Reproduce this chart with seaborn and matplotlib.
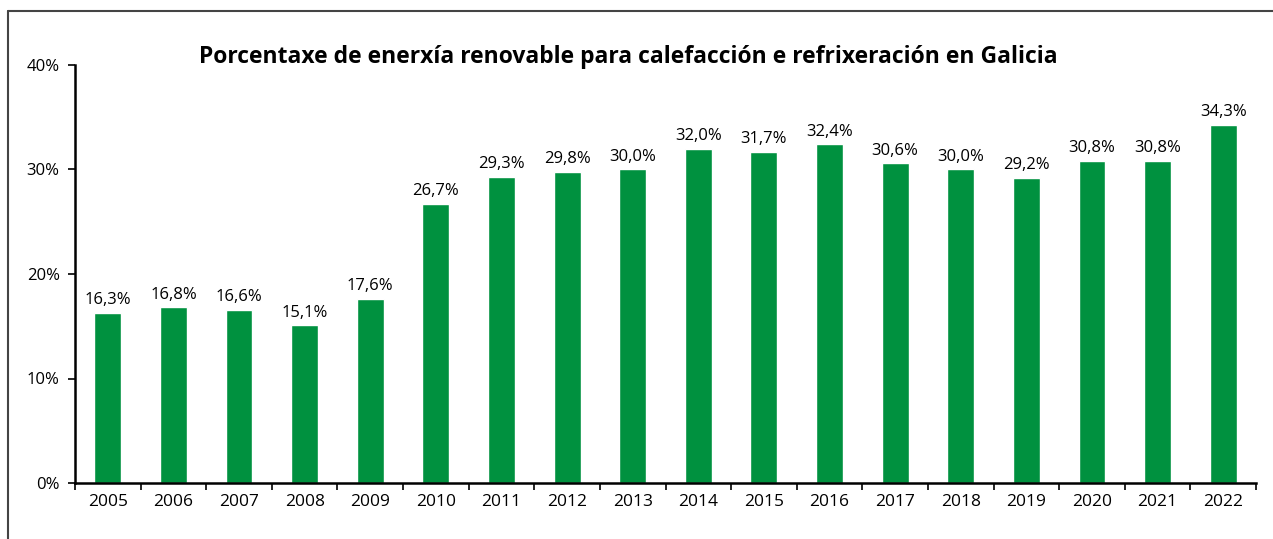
import matplotlib
matplotlib.use("Agg")
import matplotlib.pyplot as plt
import seaborn as sns
import pandas as pd
from matplotlib.ticker import FixedLocator, PercentFormatter
from matplotlib.lines import Line2D

years = ["2005", "2006", "2007", "2008", "2009", "2010", "2011", "2012", "2013",
         "2014", "2015", "2016", "2017", "2018", "2019", "2020", "2021", "2022"]
values = [16.3, 16.8, 16.6, 15.1, 17.6, 26.7, 29.3, 29.8, 30.0,
          32.0, 31.7, 32.4, 30.6, 30.0, 29.2, 30.8, 30.8, 34.3]
title = "Porcentaxe de enerxía renovable para calefacción e refrixeración en Galicia"

sns.set_theme(style="white")
plt.rcParams['font.family'] = ['Open Sans', 'DejaVu Sans']

df = pd.DataFrame({"year": years, "value": values})

fig = plt.figure(figsize=(12.73, 5.39), dpi=100)
ax = fig.add_axes([75/1273, 1-483/539, (1256-75)/1273, (483-65)/539])

sns.barplot(data=df, x="year", y="value", color="#00913F", width=0.41,
            saturation=1, ax=ax, order=years)

for i, v in enumerate(values):
    ax.text(i, v + 0.45, f"{v:.1f}%".replace(".", ","), ha="center", va="bottom",
            fontsize=12, color="black")

ax.set_ylim(0, 40)
ax.set_xlim(-0.5, len(years) - 0.5)
ax.set_yticks([0, 10, 20, 30, 40])
ax.yaxis.set_major_formatter(PercentFormatter(decimals=0))
ax.set_xlabel("")
ax.set_ylabel("")

for s in ["top", "right"]:
    ax.spines[s].set_visible(False)
for s in ["left", "bottom"]:
    ax.spines[s].set_color("black")
    ax.spines[s].set_linewidth(1.8)

ax.tick_params(axis="y", which="major", direction="out", length=5, width=1.2,
               color="black", left=True, labelsize=12, pad=6, labelcolor="black")
ax.tick_params(axis="x", which="major", length=0, labelsize=12.5, pad=8,
               labelcolor="black")
ax.xaxis.set_minor_locator(FixedLocator([i - 0.5 for i in range(len(years) + 1)]))
ax.tick_params(axis="x", which="minor", direction="out", length=5, width=1.2,
               color="black", bottom=True)

fig.text(628/1273, 1-57/539, title, ha="center", va="center", fontsize=16.5,
         fontweight="bold", color="black")

fig.add_artist(Line2D([8/1273, 8/1273], [0, 1-11/539], transform=fig.transFigure,
                      color="#444444", linewidth=1.5))
fig.add_artist(Line2D([8/1273, 1], [1-11/539, 1-11/539], transform=fig.transFigure,
                      color="#444444", linewidth=1.5))

fig.savefig("out.png", dpi=100)
